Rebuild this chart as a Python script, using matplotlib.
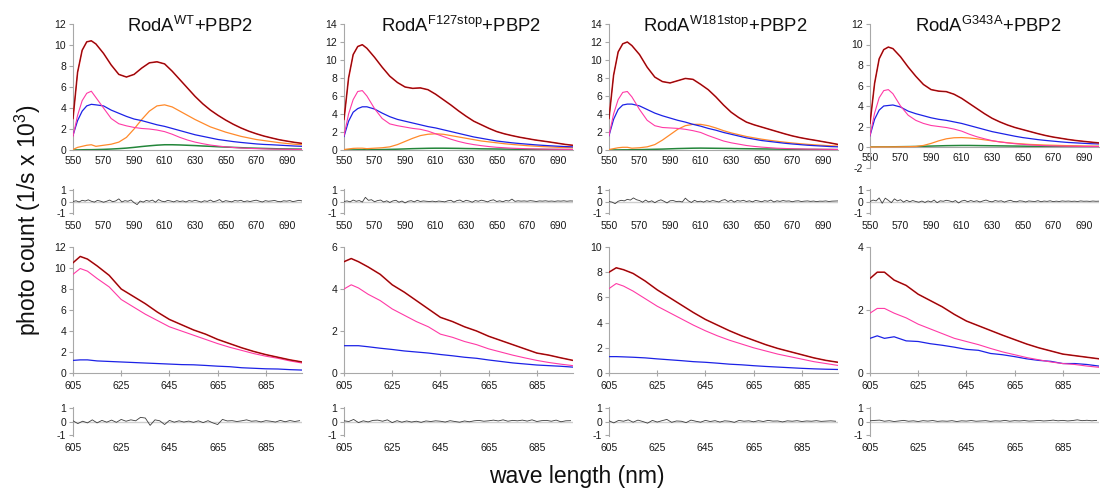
import numpy as np
import matplotlib
matplotlib.use("Agg")
import matplotlib.pyplot as plt

plt.rcParams["font.family"] = ["Liberation Sans", "DejaVu Sans"]
plt.rcParams["mathtext.fontset"] = "custom"
plt.rcParams["mathtext.rm"] = "Liberation Sans"
plt.rcParams["mathtext.it"] = "Liberation Sans:italic"
plt.rcParams["axes.unicode_minus"] = False

# ---------------------------------------------------------------- data
VARIANTS = ["WT", "F127stop", "W181stop", "G343A"]

# excitation 1: emission 550-700 nm
TOP_WL = [550, 553, 556, 559, 562, 565, 570, 575, 580, 585, 590, 595, 600, 605,
          610, 615, 620, 625, 630, 635, 640, 645, 650, 655, 660, 665, 670, 675,
          680, 685, 690, 695, 700]

WT_TOTAL = [3.0, 7.4, 9.5, 10.3, 10.4, 10.1, 9.2, 8.1, 7.2, 6.95, 7.2, 7.8, 8.3, 8.4, 8.2, 7.5, 6.7,
            5.9, 5.1, 4.4, 3.8, 3.3, 2.85, 2.45, 2.1, 1.8, 1.55, 1.33, 1.15, 0.98, 0.85, 0.73, 0.63]
WT_PINK = [1.3, 3.3, 4.7, 5.4, 5.6, 5.0, 4.0, 3.0, 2.5, 2.3, 2.15, 2.05, 2.0, 1.9, 1.75, 1.5, 1.2,
           0.95, 0.75, 0.6, 0.47, 0.38, 0.3, 0.24, 0.19, 0.16, 0.13, 0.11, 0.09, 0.08, 0.07, 0.06, 0.05]
WT_BLUE = [1.4, 2.8, 3.7, 4.2, 4.35, 4.3, 4.2, 3.8, 3.5, 3.2, 2.95, 2.8, 2.6, 2.4, 2.25, 2.05, 1.85,
           1.65, 1.45, 1.3, 1.15, 1.0, 0.9, 0.8, 0.72, 0.65, 0.58, 0.53, 0.5, 0.46, 0.42, 0.38, 0.35]
WT_ORANGE = [0.05, 0.25, 0.35, 0.45, 0.5, 0.35, 0.45, 0.55, 0.75, 1.2, 2.0, 2.9, 3.7, 4.2, 4.3, 4.1, 3.7,
             3.3, 2.9, 2.55, 2.2, 1.95, 1.7, 1.5, 1.3, 1.15, 1.0, 0.9, 0.8, 0.7, 0.62, 0.55, 0.5]
WT_GREEN = [0.0, 0.01, 0.02, 0.03, 0.03, 0.04, 0.06, 0.09, 0.13, 0.18, 0.25, 0.33, 0.4, 0.46, 0.5, 0.5, 0.48,
            0.45, 0.42, 0.38, 0.35, 0.31, 0.28, 0.25, 0.22, 0.19, 0.17, 0.15, 0.13, 0.11, 0.1, 0.09, 0.08]

F127_TOTAL = [3.4, 8.0, 10.6, 11.5, 11.7, 11.3, 10.3, 9.2, 8.2, 7.5, 7.0, 6.85, 6.9, 6.7, 6.2, 5.6, 5.0,
              4.35, 3.75, 3.2, 2.8, 2.4, 2.05, 1.8, 1.6, 1.42, 1.27, 1.12, 1.0, 0.88, 0.75, 0.62, 0.52]
F127_PINK = [1.6, 4.0, 5.6, 6.5, 6.6, 6.0, 4.6, 3.5, 2.9, 2.7, 2.55, 2.4, 2.3, 2.1, 1.8, 1.5, 1.2,
             0.95, 0.75, 0.6, 0.48, 0.38, 0.3, 0.25, 0.2, 0.17, 0.14, 0.12, 0.1, 0.09, 0.08, 0.07, 0.06]
F127_BLUE = [1.5, 3.2, 4.2, 4.6, 4.8, 4.8, 4.55, 4.1, 3.7, 3.4, 3.2, 3.0, 2.8, 2.6, 2.45, 2.25, 2.05,
             1.85, 1.65, 1.45, 1.3, 1.15, 1.0, 0.9, 0.8, 0.72, 0.65, 0.58, 0.52, 0.47, 0.42, 0.38, 0.35]
F127_ORANGE = [0.05, 0.12, 0.18, 0.2, 0.2, 0.15, 0.2, 0.25, 0.35, 0.6, 0.95, 1.3, 1.6, 1.75, 1.8, 1.75, 1.6,
               1.45, 1.3, 1.15, 1.0, 0.9, 0.8, 0.7, 0.62, 0.55, 0.48, 0.43, 0.38, 0.34, 0.3, 0.27, 0.25]
F127_GREEN = [0.0, 0.01, 0.01, 0.02, 0.02, 0.03, 0.04, 0.05, 0.07, 0.09, 0.12, 0.15, 0.17, 0.19, 0.2, 0.2, 0.19,
              0.18, 0.16, 0.15, 0.13, 0.12, 0.11, 0.1, 0.09, 0.08, 0.07, 0.06, 0.06, 0.05, 0.05, 0.04, 0.04]

W181_TOTAL = [3.5, 8.3, 10.9, 11.8, 12.0, 11.6, 10.6, 9.2, 8.1, 7.6, 7.45, 7.7, 7.95, 7.85, 7.3, 6.7, 5.9,
              5.0, 4.2, 3.6, 3.1, 2.8, 2.55, 2.3, 2.05, 1.8, 1.57, 1.38, 1.22, 1.08, 0.93, 0.78, 0.62]
W181_PINK = [1.6, 4.0, 5.6, 6.4, 6.5, 5.9, 4.5, 3.3, 2.7, 2.5, 2.45, 2.4, 2.3, 2.15, 1.95, 1.6, 1.3,
             1.0, 0.8, 0.65, 0.5, 0.4, 0.32, 0.26, 0.2, 0.17, 0.14, 0.12, 0.1, 0.09, 0.08, 0.07, 0.06]
W181_BLUE = [1.6, 3.4, 4.5, 5.0, 5.1, 5.1, 4.9, 4.5, 4.1, 3.8, 3.55, 3.3, 3.1, 2.85, 2.65, 2.4, 2.2,
             1.95, 1.75, 1.55, 1.35, 1.2, 1.05, 0.95, 0.85, 0.75, 0.67, 0.6, 0.53, 0.48, 0.43, 0.38, 0.35]
W181_ORANGE = [0.05, 0.15, 0.25, 0.3, 0.3, 0.2, 0.25, 0.35, 0.6, 1.1, 1.7, 2.3, 2.7, 2.85, 2.85, 2.7, 2.45,
               2.15, 1.9, 1.7, 1.5, 1.35, 1.2, 1.08, 0.97, 0.87, 0.78, 0.7, 0.63, 0.57, 0.52, 0.47, 0.43]
W181_GREEN = [0.0, 0.01, 0.01, 0.02, 0.02, 0.03, 0.04, 0.06, 0.08, 0.1, 0.13, 0.16, 0.18, 0.2, 0.21, 0.2, 0.19,
              0.18, 0.17, 0.15, 0.14, 0.13, 0.12, 0.11, 0.1, 0.09, 0.08, 0.07, 0.06, 0.06, 0.05, 0.05, 0.04]

G343_TOTAL = [2.3, 6.2, 8.6, 9.5, 9.75, 9.6, 8.8, 7.8, 6.9, 6.1, 5.6, 5.45, 5.4, 5.15, 4.75, 4.25, 3.75,
              3.25, 2.8, 2.45, 2.15, 1.9, 1.7, 1.5, 1.3, 1.12, 0.97, 0.85, 0.73, 0.63, 0.55, 0.47, 0.4]
G343_PINK = [1.1, 3.3, 4.8, 5.5, 5.6, 5.2, 4.0, 3.1, 2.6, 2.3, 2.1, 2.0, 1.9, 1.75, 1.55, 1.25, 1.0,
             0.8, 0.62, 0.5, 0.4, 0.32, 0.26, 0.2, 0.16, 0.13, 0.11, 0.09, 0.08, 0.07, 0.06, 0.05, 0.05]
G343_BLUE = [1.1, 2.7, 3.6, 4.0, 4.05, 4.1, 3.9, 3.5, 3.25, 3.05, 2.85, 2.7, 2.6, 2.45, 2.3, 2.1, 1.9,
             1.7, 1.5, 1.35, 1.2, 1.05, 0.92, 0.82, 0.72, 0.64, 0.57, 0.5, 0.44, 0.4, 0.36, 0.32, 0.3]
G343_ORANGE = [0.0, 0.0, 0.01, 0.01, 0.01, 0.01, 0.02, 0.03, 0.05, 0.15, 0.35, 0.6, 0.8, 0.9, 0.92, 0.88, 0.8,
               0.7, 0.6, 0.5, 0.42, 0.35, 0.3, 0.25, 0.22, 0.19, 0.17, 0.15, 0.13, 0.12, 0.1, 0.09, 0.08]
G343_GREEN = [0.0, 0.0, 0.01, 0.01, 0.01, 0.02, 0.03, 0.04, 0.05, 0.07, 0.09, 0.11, 0.13, 0.14, 0.15, 0.15, 0.14,
              0.13, 0.12, 0.11, 0.1, 0.09, 0.08, 0.07, 0.06, 0.06, 0.05, 0.05, 0.04, 0.04, 0.03, 0.03, 0.03]

# residuals of the 550-700 nm fits, every 2 nm from 550
RES_STEP = 2
RES_TOP_WT = [0.00, 0.06, -0.04, 0.10, 0.04, 0.14, 0.02, -0.05, 0.09, 0.03, -0.06, 0.02, 0.12, -0.02, 0.05, 0.22, -0.04, 0.07, 0.02,
              0.13, -0.10, -0.26, 0.04, -0.05, 0.09, 0.02, 0.12, -0.06, 0.16, 0.03, -0.02, 0.09, 0.04, -0.03, 0.07, 0.00, 0.05, -0.04,
              0.08, 0.02, 0.10, 0.03, -0.05, 0.06, 0.01, 0.12, -0.02, 0.05, 0.16, -0.04, 0.07, 0.02, -0.03, 0.08, 0.04, 0.10, -0.02,
              0.05, 0.00, 0.06, 0.11, 0.03, -0.04, 0.07, 0.02, 0.05, 0.09, 0.01, -0.02, 0.06, 0.03, 0.08, -0.01, 0.04, 0.10, 0.05]
RES_TOP_F127 = [0.00, 0.05, -0.03, 0.12, 0.02, 0.08, -0.05, 0.35, 0.10, 0.15, -0.02, 0.08, 0.12, -0.04, 0.06, -0.08, 0.05, 0.10, -0.06,
                0.04, -0.12, 0.02, 0.07, -0.03, 0.10, 0.00, 0.05, 0.02, 0.00, 0.03, -0.02, 0.04, 0.01, -0.03, 0.06, 0.10, -0.05, 0.08,
                0.12, -0.02, 0.10, 0.04, -0.06, 0.08, 0.02, 0.11, 0.05, -0.03, 0.09, 0.14, 0.00, 0.06, -0.02, 0.08, 0.04, 0.20, 0.01,
                0.06, 0.03, 0.05, 0.02, 0.07, 0.04, 0.00, 0.05, 0.03, 0.06, 0.02, 0.04, 0.01, 0.05, 0.03, 0.06, 0.02, 0.05, 0.04]
RES_TOP_W181 = [0.00, -0.05, -0.18, 0.02, 0.10, 0.05, 0.18, 0.12, 0.30, 0.15, 0.08, -0.06, 0.12, -0.04, 0.06, -0.10, 0.05, 0.14, 0.02,
                -0.12, 0.06, 0.08, 0.00, 0.02, -0.04, 0.28, 0.05, -0.08, 0.10, -0.02, 0.03, -0.05, 0.07, 0.00, 0.08, 0.02, -0.04, 0.10,
                0.16, 0.00, 0.12, -0.05, 0.08, 0.03, 0.10, 0.00, 0.06, -0.03, 0.09, 0.04, -0.02, 0.07, 0.02, 0.12, -0.04, 0.06, 0.01,
                0.08, 0.03, 0.05, -0.02, 0.04, 0.06, 0.00, 0.03, 0.05, 0.01, 0.04, -0.01, 0.03, 0.02, 0.05, 0.00, 0.03, 0.04, 0.05]
RES_TOP_G343 = [0.00, 0.12, 0.05, 0.30, -0.15, 0.28, 0.10, -0.10, 0.22, 0.05, 0.15, -0.05, 0.10, -0.02, 0.08, 0.00, -0.06, 0.04, -0.08,
                0.05, -0.04, 0.12, -0.10, 0.06, 0.02, 0.10, 0.05, -0.03, 0.08, -0.12, 0.04, 0.10, -0.02, 0.08, 0.00, 0.06, -0.04, 0.05,
                0.12, 0.02, -0.03, 0.08, 0.02, 0.06, -0.05, 0.04, 0.10, 0.00, -0.02, 0.06, 0.03, -0.04, 0.05, 0.02, 0.00, 0.07, -0.02,
                0.04, 0.01, 0.06, -0.01, 0.03, 0.00, 0.05, 0.02, 0.04, 0.01, 0.03, 0.00, 0.05, 0.02, 0.03, 0.01, 0.04, 0.02, 0.03]

# excitation 2: emission 605-700 nm
BOT_WL = [605, 608, 611, 615, 620, 625, 630, 635, 640, 645, 650, 655, 660, 665, 670, 675, 680, 685, 690, 695, 700]

WT2_TOTAL = [10.5, 11.1, 10.85, 10.2, 9.3, 8.0, 7.3, 6.6, 5.8, 5.1, 4.6, 4.1, 3.7, 3.2, 2.8, 2.4, 2.05, 1.75, 1.5, 1.25, 1.05]
WT2_PINK = [9.4, 9.95, 9.7, 9.0, 8.2, 7.0, 6.3, 5.6, 5.0, 4.4, 4.0, 3.6, 3.2, 2.8, 2.45, 2.15, 1.85, 1.6, 1.4, 1.15, 0.95]
WT2_BLUE = [1.2, 1.25, 1.25, 1.15, 1.1, 1.05, 1.0, 0.95, 0.9, 0.85, 0.8, 0.78, 0.72, 0.65, 0.6, 0.5, 0.45, 0.4, 0.38, 0.32, 0.28]

F1272_TOTAL = [5.3, 5.45, 5.3, 5.05, 4.7, 4.2, 3.85, 3.45, 3.05, 2.65, 2.45, 2.2, 2.0, 1.75, 1.55, 1.35, 1.15, 0.95, 0.85, 0.72, 0.6]
F1272_PINK = [4.0, 4.2, 4.05, 3.75, 3.45, 3.05, 2.75, 2.45, 2.2, 1.85, 1.7, 1.5, 1.35, 1.15, 1.0, 0.85, 0.72, 0.6, 0.5, 0.42, 0.35]
F1272_BLUE = [1.3, 1.3, 1.3, 1.25, 1.18, 1.12, 1.05, 1.0, 0.95, 0.88, 0.82, 0.75, 0.7, 0.62, 0.55, 0.48, 0.43, 0.38, 0.35, 0.32, 0.28]

W1812_TOTAL = [8.0, 8.35, 8.2, 7.9, 7.3, 6.6, 6.0, 5.4, 4.8, 4.25, 3.8, 3.35, 2.95, 2.6, 2.25, 1.95, 1.7, 1.45, 1.2, 1.0, 0.85]
W1812_PINK = [6.7, 7.1, 6.9, 6.5, 5.9, 5.3, 4.8, 4.3, 3.8, 3.35, 2.95, 2.6, 2.3, 2.0, 1.75, 1.5, 1.3, 1.1, 0.9, 0.75, 0.6]
W1812_BLUE = [1.3, 1.3, 1.28, 1.25, 1.2, 1.12, 1.05, 0.98, 0.9, 0.85, 0.78, 0.7, 0.65, 0.58, 0.52, 0.47, 0.42, 0.37, 0.33, 0.3, 0.28]

G3432_TOTAL = [3.0, 3.2, 3.2, 2.95, 2.78, 2.5, 2.3, 2.1, 1.86, 1.65, 1.5, 1.35, 1.2, 1.06, 0.92, 0.8, 0.7, 0.6, 0.55, 0.5, 0.45]
G3432_PINK = [1.9, 2.05, 2.05, 1.9, 1.75, 1.55, 1.4, 1.25, 1.1, 1.0, 0.9, 0.78, 0.67, 0.58, 0.49, 0.42, 0.35, 0.3, 0.27, 0.22, 0.18]
G3432_BLUE = [1.1, 1.18, 1.1, 1.15, 1.02, 1.0, 0.93, 0.88, 0.82, 0.75, 0.72, 0.62, 0.58, 0.52, 0.45, 0.4, 0.37, 0.3, 0.3, 0.27, 0.22]

# residuals of the 605-700 nm fits, every 2 nm from 605
RES_BOT_WT = [0.05, -0.15, 0.02, -0.10, 0.12, -0.10, 0.08, -0.05, 0.10, -0.06, 0.15, 0.02, 0.12, 0.05, 0.30, 0.25,
              -0.28, 0.12, 0.05, -0.22, 0.08, -0.05, 0.05, -0.04, 0.03, -0.06, 0.05, -0.08, 0.06, -0.10, -0.22, 0.15,
              0.04, 0.06, 0.00, 0.05, 0.12, 0.02, 0.05, -0.03, 0.06, 0.02, -0.04, 0.08, -0.02, 0.07, 0.00, 0.06]
RES_BOT_F127 = [0.05, 0.00, 0.15, -0.08, 0.05, -0.03, 0.08, 0.10, 0.02, 0.12, -0.08, 0.06, -0.05, 0.04, -0.04, 0.02,
                -0.06, 0.04, 0.00, 0.05, 0.02, -0.04, 0.06, 0.00, -0.05, 0.04, -0.02, 0.05, 0.08, 0.02, 0.05, 0.10,
                0.04, 0.12, 0.02, 0.08, 0.05, 0.10, 0.03, 0.12, 0.00, 0.06, 0.08, 0.02, 0.10, -0.02, 0.05, 0.06]
RES_BOT_W181 = [0.05, -0.10, 0.08, 0.02, 0.12, -0.05, 0.10, 0.00, -0.12, 0.08, -0.04, 0.06, 0.15, -0.06, 0.04, 0.02,
                -0.08, 0.10, 0.02, -0.05, 0.08, 0.00, 0.06, -0.04, 0.05, 0.02, -0.06, 0.08, 0.02, 0.05, -0.02, 0.06,
                0.00, 0.08, 0.03, 0.04, -0.03, 0.05, 0.02, 0.06, 0.00, 0.04, 0.02, 0.06, 0.01, 0.03, 0.05, 0.02]
RES_BOT_G343 = [0.05, 0.08, 0.10, 0.02, 0.06, 0.00, 0.04, 0.08, 0.02, 0.05, 0.00, 0.06, 0.03, 0.07, 0.01, 0.04,
                0.02, 0.06, 0.00, 0.05, 0.03, 0.07, 0.02, 0.04, 0.06, 0.01, 0.05, 0.03, 0.08, 0.02, 0.06, 0.04,
                0.07, 0.03, 0.05, 0.08, 0.04, 0.06, 0.10, 0.05, 0.08, 0.04, 0.07, 0.12, 0.06, 0.09, 0.05, 0.08]

TOP_SETS = [
    (WT_TOTAL, WT_PINK, WT_BLUE, WT_ORANGE, WT_GREEN),
    (F127_TOTAL, F127_PINK, F127_BLUE, F127_ORANGE, F127_GREEN),
    (W181_TOTAL, W181_PINK, W181_BLUE, W181_ORANGE, W181_GREEN),
    (G343_TOTAL, G343_PINK, G343_BLUE, G343_ORANGE, G343_GREEN),
]
TOP_RES = [RES_TOP_WT, RES_TOP_F127, RES_TOP_W181, RES_TOP_G343]
BOT_SETS = [
    (WT2_TOTAL, WT2_PINK, WT2_BLUE),
    (F1272_TOTAL, F1272_PINK, F1272_BLUE),
    (W1812_TOTAL, W1812_PINK, W1812_BLUE),
    (G3432_TOTAL, G3432_PINK, G3432_BLUE),
]
BOT_RES = [RES_BOT_WT, RES_BOT_F127, RES_BOT_W181, RES_BOT_G343]

TOP_YLIM = [(0, 12), (0, 14), (0, 14), (-2, 12)]
BOT_YLIM = [(0, 12), (0, 6), (0, 10), (0, 4)]
TOP_XTICKS = list(range(550, 691, 20))
BOT_XTICKS = list(range(605, 686, 20))

# ---------------------------------------------------------------- styles
C_DATA = "#4a0c0c"
C_FIT = "#e8161b"
C_PINK = "#ff3aa6"
C_BLUE = "#1c22e6"
C_ORANGE = "#ff8a2b"
C_GREEN = "#23863a"
C_RES = "#3d3d3d"
AXIS_GREY = "#a8a8a8"

W, H = 1100, 488
LEFTS = [73, 344, 609, 870]
PW = 229

fig = plt.figure(figsize=(W / 100, H / 100), dpi=100)


def box(left, top, right, bottom):
    return [left / W, 1 - bottom / H, (right - left) / W, (bottom - top) / H]


def style(ax, xlim, xticks, ylim, yticks, xtick_len=0):
    ax.set_xlim(*xlim)
    ax.set_ylim(*ylim)
    ax.set_xticks(xticks)
    ax.set_yticks(yticks)
    ax.patch.set_visible(False)
    for s in ("top", "right"):
        ax.spines[s].set_visible(False)
    for s in ("left", "bottom"):
        ax.spines[s].set_color(AXIS_GREY)
        ax.spines[s].set_linewidth(0.8)
    ax.tick_params(axis="both", labelsize=7.5, colors=AXIS_GREY, labelcolor="#1a1a1a", width=0.8)
    ax.tick_params(axis="y", length=3, pad=2)
    ax.tick_params(axis="x", length=xtick_len, pad=4, direction="inout")


def draw_total(ax, x, y):
    ax.plot(x, y, color=C_FIT, lw=1.15, solid_joinstyle="round", zorder=5)
    ax.plot(x, y, color=C_DATA, lw=0.5, alpha=0.85, zorder=6)


def draw_residual(ax, start, values, xlim, xticks):
    xs = start + RES_STEP * np.arange(len(values))
    ax.axhline(0, color="#cfcfcf", lw=1.0, zorder=1)
    ax.plot(xs, values, color=C_RES, lw=0.6, zorder=3)
    style(ax, xlim, xticks, (-1.05, 1.05), [-1, 0, 1])
    ax.spines["bottom"].set_visible(False)
    ax.tick_params(axis="x", pad=5)


for i in range(4):
    left = LEFTS[i]
    right = left + PW

    # main spectra, 550-700 nm
    ylim = TOP_YLIM[i]
    bottom_px = 150 if ylim[0] == 0 else 167.5
    ax = fig.add_axes(box(left, 24, right, bottom_px))
    total, pink, blue, orange, green = TOP_SETS[i]
    ax.plot(TOP_WL, green, color=C_GREEN, lw=1.1, zorder=2)
    ax.plot(TOP_WL, orange, color=C_ORANGE, lw=0.9, zorder=3)
    ax.plot(TOP_WL, blue, color=C_BLUE, lw=0.9, zorder=3)
    ax.plot(TOP_WL, pink, color=C_PINK, lw=0.8, zorder=4)
    draw_total(ax, TOP_WL, total)
    style(ax, (550, 700), TOP_XTICKS, ylim, list(range(ylim[0], ylim[1] + 1, 2)))
    if ylim[0] < 0:
        ax.spines["bottom"].set_position(("data", 0))

    # residuals, 550-700 nm
    axr = fig.add_axes(box(left, 189, right, 214))
    draw_residual(axr, 550, TOP_RES[i], (550, 700), TOP_XTICKS)

    # main spectra, 605-700 nm
    ylim = BOT_YLIM[i]
    axb = fig.add_axes(box(left, 247, right, 373))
    total, pink, blue = BOT_SETS[i]
    axb.plot(BOT_WL, blue, color=C_BLUE, lw=0.9, zorder=3)
    axb.plot(BOT_WL, pink, color=C_PINK, lw=0.8, zorder=4)
    draw_total(axb, BOT_WL, total)
    style(axb, (605, 700), BOT_XTICKS, ylim, list(range(ylim[0], ylim[1] + 1, 2)), xtick_len=4)

    # residuals, 605-700 nm
    axbr = fig.add_axes(box(left, 407, right, 436))
    draw_residual(axbr, 605, BOT_RES[i], (605, 700), BOT_XTICKS)

# panel titles
TITLE_X = [190, 461, 725, 988]
for name, xc in zip(VARIANTS, TITLE_X):
    fig.text(xc / W, 1 - 32 / H, r"RodA$^{\mathrm{" + name + r"}}$+PBP2",
             ha="center", va="baseline", fontsize=13.3, color="#111111")

fig.text(28 / W, 1 - 220 / H, r"photo count (1/s x 10$^{3}$)", rotation=90,
         ha="center", va="center", fontsize=16.5, color="#111111")
fig.text(577 / W, 1 - 477 / H, "wave length (nm)", ha="center", va="center",
         fontsize=16.5, color="#111111")

fig.savefig("out.png", dpi=100)
